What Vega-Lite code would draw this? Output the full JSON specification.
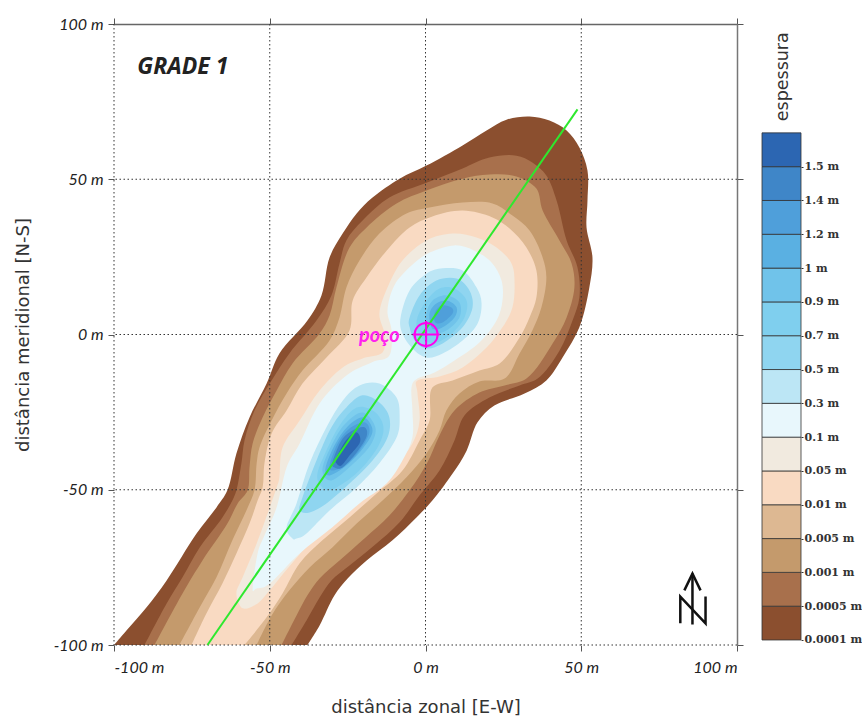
{"$schema":"https://vega.github.io/schema/vega-lite/v6.json","padding":{"left":14,"top":16,"right":0,"bottom":0},"background":"white","bounds":"flush","spacing":25,"config":{"view":{"stroke":null},"axis":{"grid":false}},
"datasets":{
"contours":[
{"p":"0","b":"0.0001 m","x":-100,"y":-100},{"p":"0","b":"0.0001 m","x":-96,"y":-95.3},{"p":"0","b":"0.0001 m","x":-89.6,"y":-87.9},{"p":"0","b":"0.0001 m","x":-83.1,"y":-79.2},{"p":"0","b":"0.0001 m","x":-73.5,"y":-64.1},{"p":"0","b":"0.0001 m","x":-67.1,"y":-55.7},{"p":"0","b":"0.0001 m","x":-63.6,"y":-50.2},{"p":"0","b":"0.0001 m","x":-60.7,"y":-38.3},{"p":"0","b":"0.0001 m","x":-56.5,"y":-26.7},{"p":"0","b":"0.0001 m","x":-51,"y":-15.8},{"p":"0","b":"0.0001 m","x":-46.9,"y":-6.1},{"p":"0","b":"0.0001 m","x":-37.9,"y":4.5},{"p":"0","b":"0.0001 m","x":-33.4,"y":12.6},{"p":"0","b":"0.0001 m","x":-30.8,"y":24.8},{"p":"0","b":"0.0001 m","x":-26.6,"y":32.5},{"p":"0","b":"0.0001 m","x":-22.1,"y":39},{"p":"0","b":"0.0001 m","x":-17,"y":44.1},{"p":"0","b":"0.0001 m","x":-8.3,"y":50.2},{"p":"0","b":"0.0001 m","x":0.3,"y":54.4},{"p":"0","b":"0.0001 m","x":11.9,"y":60.9},{"p":"0","b":"0.0001 m","x":19.6,"y":65.7},{"p":"0","b":"0.0001 m","x":26,"y":69.2},{"p":"0","b":"0.0001 m","x":33.4,"y":70.2},{"p":"0","b":"0.0001 m","x":39.8,"y":68.9},{"p":"0","b":"0.0001 m","x":45.3,"y":65.7},{"p":"0","b":"0.0001 m","x":49.4,"y":60.2},{"p":"0","b":"0.0001 m","x":52,"y":52.8},{"p":"0","b":"0.0001 m","x":52,"y":43.1},{"p":"0","b":"0.0001 m","x":51.7,"y":34.5},{"p":"0","b":"0.0001 m","x":53.6,"y":24.8},{"p":"0","b":"0.0001 m","x":52.6,"y":15.1},{"p":"0","b":"0.0001 m","x":49.4,"y":2.3},{"p":"0","b":"0.0001 m","x":44,"y":-7.4},{"p":"0","b":"0.0001 m","x":38.8,"y":-14.8},{"p":"0","b":"0.0001 m","x":31.8,"y":-19},{"p":"0","b":"0.0001 m","x":22.1,"y":-22.9},{"p":"0","b":"0.0001 m","x":16.7,"y":-28.3},{"p":"0","b":"0.0001 m","x":13.2,"y":-37.4},{"p":"0","b":"0.0001 m","x":8.7,"y":-44.8},{"p":"0","b":"0.0001 m","x":2.2,"y":-53.5},{"p":"0","b":"0.0001 m","x":-2.9,"y":-58.9},{"p":"0","b":"0.0001 m","x":-10.6,"y":-66.3},{"p":"0","b":"0.0001 m","x":-18.9,"y":-72.8},{"p":"0","b":"0.0001 m","x":-25,"y":-78.6},{"p":"0","b":"0.0001 m","x":-29.2,"y":-84},{"p":"0","b":"0.0001 m","x":-34,"y":-93.7},{"p":"0","b":"0.0001 m","x":-37.9,"y":-100},
{"p":"1","b":"0.0005 m","x":-90.2,"y":-100},{"p":"1","b":"0.0005 m","x":-83.1,"y":-86.6},{"p":"1","b":"0.0005 m","x":-78,"y":-78.2},{"p":"1","b":"0.0005 m","x":-72.5,"y":-68.6},{"p":"1","b":"0.0005 m","x":-65.2,"y":-58.9},{"p":"1","b":"0.0005 m","x":-62,"y":-53.5},{"p":"1","b":"0.0005 m","x":-60.7,"y":-50.2},{"p":"1","b":"0.0005 m","x":-59.1,"y":-41.5},{"p":"1","b":"0.0005 m","x":-58.1,"y":-34.1},{"p":"1","b":"0.0005 m","x":-54.9,"y":-24.5},{"p":"1","b":"0.0005 m","x":-49.4,"y":-14.8},{"p":"1","b":"0.0005 m","x":-43.7,"y":-6.1},{"p":"1","b":"0.0005 m","x":-35,"y":4.5},{"p":"1","b":"0.0005 m","x":-30.2,"y":12.6},{"p":"1","b":"0.0005 m","x":-27.6,"y":22.9},{"p":"1","b":"0.0005 m","x":-25.4,"y":30.3},{"p":"1","b":"0.0005 m","x":-20.2,"y":36.7},{"p":"1","b":"0.0005 m","x":-11.6,"y":44.1},{"p":"1","b":"0.0005 m","x":0.3,"y":48.9},{"p":"1","b":"0.0005 m","x":11.9,"y":53.5},{"p":"1","b":"0.0005 m","x":20.5,"y":57},{"p":"1","b":"0.0005 m","x":29.2,"y":57.6},{"p":"1","b":"0.0005 m","x":34.3,"y":55.4},{"p":"1","b":"0.0005 m","x":38.8,"y":51.2},{"p":"1","b":"0.0005 m","x":42.1,"y":43.1},{"p":"1","b":"0.0005 m","x":45.3,"y":30.3},{"p":"1","b":"0.0005 m","x":48.8,"y":21.6},{"p":"1","b":"0.0005 m","x":49.4,"y":11.9},{"p":"1","b":"0.0005 m","x":47.2,"y":4.5},{"p":"1","b":"0.0005 m","x":43,"y":-5.2},{"p":"1","b":"0.0005 m","x":36,"y":-14.2},{"p":"1","b":"0.0005 m","x":30.2,"y":-16.4},{"p":"1","b":"0.0005 m","x":20.5,"y":-20.3},{"p":"1","b":"0.0005 m","x":12.5,"y":-26.1},{"p":"1","b":"0.0005 m","x":9.3,"y":-34.1},{"p":"1","b":"0.0005 m","x":4.5,"y":-43.8},{"p":"1","b":"0.0005 m","x":-1.9,"y":-51.8},{"p":"1","b":"0.0005 m","x":-8.3,"y":-60.5},{"p":"1","b":"0.0005 m","x":-16.4,"y":-67.9},{"p":"1","b":"0.0005 m","x":-24.4,"y":-74.4},{"p":"1","b":"0.0005 m","x":-30.2,"y":-79.2},{"p":"1","b":"0.0005 m","x":-34,"y":-84.7},{"p":"1","b":"0.0005 m","x":-38.2,"y":-92.1},{"p":"1","b":"0.0005 m","x":-43,"y":-100},
{"p":"2","b":"0.001 m","x":-87,"y":-100},{"p":"2","b":"0.001 m","x":-78,"y":-83.4},{"p":"2","b":"0.001 m","x":-71.6,"y":-72.8},{"p":"2","b":"0.001 m","x":-63.6,"y":-60.9},{"p":"2","b":"0.001 m","x":-60.3,"y":-54.4},{"p":"2","b":"0.001 m","x":-57.1,"y":-50.2},{"p":"2","b":"0.001 m","x":-56.5,"y":-42.8},{"p":"2","b":"0.001 m","x":-55.5,"y":-35.1},{"p":"2","b":"0.001 m","x":-52.3,"y":-26.7},{"p":"2","b":"0.001 m","x":-47.8,"y":-18},{"p":"2","b":"0.001 m","x":-42.7,"y":-9.3},{"p":"2","b":"0.001 m","x":-34,"y":0.3},{"p":"2","b":"0.001 m","x":-30.8,"y":6.1},{"p":"2","b":"0.001 m","x":-28.6,"y":15.1},{"p":"2","b":"0.001 m","x":-24.4,"y":28},{"p":"2","b":"0.001 m","x":-18.9,"y":34.5},{"p":"2","b":"0.001 m","x":-9.3,"y":42.2},{"p":"2","b":"0.001 m","x":0.3,"y":46.4},{"p":"2","b":"0.001 m","x":11.9,"y":50.2},{"p":"2","b":"0.001 m","x":20.5,"y":51.5},{"p":"2","b":"0.001 m","x":29.2,"y":50.9},{"p":"2","b":"0.001 m","x":35.6,"y":47},{"p":"2","b":"0.001 m","x":37.6,"y":39.9},{"p":"2","b":"0.001 m","x":43,"y":30.3},{"p":"2","b":"0.001 m","x":46.9,"y":22.9},{"p":"2","b":"0.001 m","x":47.8,"y":15.1},{"p":"2","b":"0.001 m","x":45.3,"y":5.5},{"p":"2","b":"0.001 m","x":40.8,"y":-2.9},{"p":"2","b":"0.001 m","x":32.4,"y":-14.2},{"p":"2","b":"0.001 m","x":25.4,"y":-16.4},{"p":"2","b":"0.001 m","x":17.3,"y":-18.7},{"p":"2","b":"0.001 m","x":9.3,"y":-24.5},{"p":"2","b":"0.001 m","x":4.5,"y":-32.5},{"p":"2","b":"0.001 m","x":0.6,"y":-41.2},{"p":"2","b":"0.001 m","x":-5.1,"y":-50.2},{"p":"2","b":"0.001 m","x":-11.6,"y":-58.3},{"p":"2","b":"0.001 m","x":-19.6,"y":-65.7},{"p":"2","b":"0.001 m","x":-27.6,"y":-72.8},{"p":"2","b":"0.001 m","x":-34,"y":-78.6},{"p":"2","b":"0.001 m","x":-37.9,"y":-84},{"p":"2","b":"0.001 m","x":-41.4,"y":-90.5},{"p":"2","b":"0.001 m","x":-46.2,"y":-100},
{"p":"3","b":"0.005 m","x":-79,"y":-100},{"p":"3","b":"0.005 m","x":-72.5,"y":-87.9},{"p":"3","b":"0.005 m","x":-67.1,"y":-78.2},{"p":"3","b":"0.005 m","x":-62,"y":-66.3},{"p":"3","b":"0.005 m","x":-57.5,"y":-56.7},{"p":"3","b":"0.005 m","x":-54.9,"y":-50.2},{"p":"3","b":"0.005 m","x":-54.2,"y":-41.5},{"p":"3","b":"0.005 m","x":-53.3,"y":-36.4},{"p":"3","b":"0.005 m","x":-49.4,"y":-27.7},{"p":"3","b":"0.005 m","x":-44.6,"y":-19},{"p":"3","b":"0.005 m","x":-39.5,"y":-11.6},{"p":"3","b":"0.005 m","x":-30.8,"y":-1.9},{"p":"3","b":"0.005 m","x":-27.6,"y":5.5},{"p":"3","b":"0.005 m","x":-25.4,"y":15.1},{"p":"3","b":"0.005 m","x":-21.2,"y":23.8},{"p":"3","b":"0.005 m","x":-14.8,"y":32.5},{"p":"3","b":"0.005 m","x":-6.1,"y":39},{"p":"3","b":"0.005 m","x":1.3,"y":40.9},{"p":"3","b":"0.005 m","x":11.9,"y":42.5},{"p":"3","b":"0.005 m","x":21.5,"y":42.2},{"p":"3","b":"0.005 m","x":27.9,"y":38.3},{"p":"3","b":"0.005 m","x":33.4,"y":33.5},{"p":"3","b":"0.005 m","x":37.6,"y":24.8},{"p":"3","b":"0.005 m","x":38.8,"y":18.4},{"p":"3","b":"0.005 m","x":37.2,"y":8.7},{"p":"3","b":"0.005 m","x":34.3,"y":1.3},{"p":"3","b":"0.005 m","x":30.2,"y":-6.1},{"p":"3","b":"0.005 m","x":25.4,"y":-14.2},{"p":"3","b":"0.005 m","x":17.3,"y":-15.1},{"p":"3","b":"0.005 m","x":10.9,"y":-19},{"p":"3","b":"0.005 m","x":6.7,"y":-24.5},{"p":"3","b":"0.005 m","x":4.5,"y":-30.9},{"p":"3","b":"0.005 m","x":0.3,"y":-38.3},{"p":"3","b":"0.005 m","x":-6.1,"y":-46},{"p":"3","b":"0.005 m","x":-13.8,"y":-53.5},{"p":"3","b":"0.005 m","x":-22.1,"y":-60.9},{"p":"3","b":"0.005 m","x":-29.9,"y":-68.6},{"p":"3","b":"0.005 m","x":-37.2,"y":-75},{"p":"3","b":"0.005 m","x":-43.7,"y":-82.4},{"p":"3","b":"0.005 m","x":-49.4,"y":-90.5},{"p":"3","b":"0.005 m","x":-54.2,"y":-100},
{"p":"4","b":"0.01 m","x":-75.1,"y":-100},{"p":"4","b":"0.01 m","x":-70.3,"y":-89.8},{"p":"4","b":"0.01 m","x":-65.2,"y":-80.2},{"p":"4","b":"0.01 m","x":-60.7,"y":-70.5},{"p":"4","b":"0.01 m","x":-56.5,"y":-60.9},{"p":"4","b":"0.01 m","x":-53.9,"y":-53.5},{"p":"4","b":"0.01 m","x":-52.3,"y":-49.3},{"p":"4","b":"0.01 m","x":-51.7,"y":-41.5},{"p":"4","b":"0.01 m","x":-49.4,"y":-31.9},{"p":"4","b":"0.01 m","x":-44.6,"y":-24.5},{"p":"4","b":"0.01 m","x":-39.5,"y":-15.8},{"p":"4","b":"0.01 m","x":-31.8,"y":-7.4},{"p":"4","b":"0.01 m","x":-24.4,"y":1.3},{"p":"4","b":"0.01 m","x":-23.4,"y":10.9},{"p":"4","b":"0.01 m","x":-18.9,"y":18.4},{"p":"4","b":"0.01 m","x":-12.5,"y":27},{"p":"4","b":"0.01 m","x":-5.1,"y":34.5},{"p":"4","b":"0.01 m","x":2.2,"y":38},{"p":"4","b":"0.01 m","x":11.9,"y":39.9},{"p":"4","b":"0.01 m","x":21.5,"y":37.7},{"p":"4","b":"0.01 m","x":27,"y":34.1},{"p":"4","b":"0.01 m","x":32.4,"y":28},{"p":"4","b":"0.01 m","x":35.6,"y":20.6},{"p":"4","b":"0.01 m","x":35.6,"y":11.9},{"p":"4","b":"0.01 m","x":33.4,"y":5.5},{"p":"4","b":"0.01 m","x":30.2,"y":-1},{"p":"4","b":"0.01 m","x":23.8,"y":-9.3},{"p":"4","b":"0.01 m","x":17.3,"y":-11.6},{"p":"4","b":"0.01 m","x":8.7,"y":-14.8},{"p":"4","b":"0.01 m","x":2.2,"y":-17.1},{"p":"4","b":"0.01 m","x":1.3,"y":-27.7},{"p":"4","b":"0.01 m","x":-1.9,"y":-34.1},{"p":"4","b":"0.01 m","x":-7.4,"y":-43.8},{"p":"4","b":"0.01 m","x":-15.7,"y":-51.2},{"p":"4","b":"0.01 m","x":-24.4,"y":-58.9},{"p":"4","b":"0.01 m","x":-33.1,"y":-66.3},{"p":"4","b":"0.01 m","x":-40.4,"y":-73.7},{"p":"4","b":"0.01 m","x":-45.9,"y":-83.4},{"p":"4","b":"0.01 m","x":-51,"y":-91.1},{"p":"4","b":"0.01 m","x":-58.1,"y":-100},
{"p":"5","b":"0.05 m","x":-58.7,"y":-88.2},{"p":"5","b":"0.05 m","x":-60.7,"y":-83.4},{"p":"5","b":"0.05 m","x":-58.7,"y":-78.2},{"p":"5","b":"0.05 m","x":-54.2,"y":-67.3},{"p":"5","b":"0.05 m","x":-50,"y":-55.7},{"p":"5","b":"0.05 m","x":-47.8,"y":-49.3},{"p":"5","b":"0.05 m","x":-46.9,"y":-46},{"p":"5","b":"0.05 m","x":-45.9,"y":-36.4},{"p":"5","b":"0.05 m","x":-40.4,"y":-27.7},{"p":"5","b":"0.05 m","x":-34,"y":-18},{"p":"5","b":"0.05 m","x":-26.6,"y":-10.6},{"p":"5","b":"0.05 m","x":-20.2,"y":-7.7},{"p":"5","b":"0.05 m","x":-13.8,"y":-5.8},{"p":"5","b":"0.05 m","x":-13.2,"y":0.3},{"p":"5","b":"0.05 m","x":-14.8,"y":6.8},{"p":"5","b":"0.05 m","x":-12.2,"y":15.1},{"p":"5","b":"0.05 m","x":-7.4,"y":23.8},{"p":"5","b":"0.05 m","x":0.3,"y":30.3},{"p":"5","b":"0.05 m","x":8.7,"y":32.5},{"p":"5","b":"0.05 m","x":16.4,"y":31.2},{"p":"5","b":"0.05 m","x":22.8,"y":28},{"p":"5","b":"0.05 m","x":27.6,"y":22.9},{"p":"5","b":"0.05 m","x":28.6,"y":16.4},{"p":"5","b":"0.05 m","x":27.9,"y":8.7},{"p":"5","b":"0.05 m","x":24.7,"y":2.3},{"p":"5","b":"0.05 m","x":19.6,"y":-4.2},{"p":"5","b":"0.05 m","x":11.9,"y":-10.6},{"p":"5","b":"0.05 m","x":4.5,"y":-13.5},{"p":"5","b":"0.05 m","x":-2.6,"y":-14.8},{"p":"5","b":"0.05 m","x":-2.6,"y":-18.7},{"p":"5","b":"0.05 m","x":-1.9,"y":-27.7},{"p":"5","b":"0.05 m","x":-4.2,"y":-35.1},{"p":"5","b":"0.05 m","x":-9.3,"y":-41.5},{"p":"5","b":"0.05 m","x":-17,"y":-48},{"p":"5","b":"0.05 m","x":-24.4,"y":-55.1},{"p":"5","b":"0.05 m","x":-32.4,"y":-62.1},{"p":"5","b":"0.05 m","x":-38.8,"y":-68.9},{"p":"5","b":"0.05 m","x":-45.3,"y":-76.6},{"p":"5","b":"0.05 m","x":-50,"y":-82.4},{"p":"5","b":"0.05 m","x":-53.9,"y":-86.6},
{"p":"6","b":"0.1 m","x":-55.5,"y":-81.8},{"p":"6","b":"0.1 m","x":-53.9,"y":-70.5},{"p":"6","b":"0.1 m","x":-51.7,"y":-64.7},{"p":"6","b":"0.1 m","x":-47.8,"y":-55.7},{"p":"6","b":"0.1 m","x":-44.6,"y":-42.8},{"p":"6","b":"0.1 m","x":-40.4,"y":-35.1},{"p":"6","b":"0.1 m","x":-34,"y":-22.2},{"p":"6","b":"0.1 m","x":-25.4,"y":-13.2},{"p":"6","b":"0.1 m","x":-17.3,"y":-9},{"p":"6","b":"0.1 m","x":-11.6,"y":-6.8},{"p":"6","b":"0.1 m","x":-10.9,"y":1.3},{"p":"6","b":"0.1 m","x":-12.2,"y":7.7},{"p":"6","b":"0.1 m","x":-10,"y":15.8},{"p":"6","b":"0.1 m","x":-4.5,"y":22.2},{"p":"6","b":"0.1 m","x":1.3,"y":26.4},{"p":"6","b":"0.1 m","x":9.3,"y":28.7},{"p":"6","b":"0.1 m","x":15.7,"y":27},{"p":"6","b":"0.1 m","x":21.2,"y":23.2},{"p":"6","b":"0.1 m","x":24.4,"y":17.4},{"p":"6","b":"0.1 m","x":24.7,"y":10.9},{"p":"6","b":"0.1 m","x":22.8,"y":4.5},{"p":"6","b":"0.1 m","x":17.3,"y":-2.6},{"p":"6","b":"0.1 m","x":9.3,"y":-8.4},{"p":"6","b":"0.1 m","x":2.9,"y":-12.2},{"p":"6","b":"0.1 m","x":-2.6,"y":-14.2},{"p":"6","b":"0.1 m","x":-4.5,"y":-17.1},{"p":"6","b":"0.1 m","x":-4.2,"y":-24.5},{"p":"6","b":"0.1 m","x":-4.2,"y":-33.2},{"p":"6","b":"0.1 m","x":-7.4,"y":-40.6},{"p":"6","b":"0.1 m","x":-12.5,"y":-48},{"p":"6","b":"0.1 m","x":-21.2,"y":-54.4},{"p":"6","b":"0.1 m","x":-29.9,"y":-62.1},{"p":"6","b":"0.1 m","x":-40.4,"y":-70.5},{"p":"6","b":"0.1 m","x":-50,"y":-80.2},{"p":"6","b":"0.1 m","x":-54.2,"y":-81.8},
{"p":"7u","b":"0.3 m","x":-8,"y":5.5},{"p":"7u","b":"0.3 m","x":-5.1,"y":14.2},{"p":"7u","b":"0.3 m","x":0.3,"y":19.6},{"p":"7u","b":"0.3 m","x":5.5,"y":21.3},{"p":"7u","b":"0.3 m","x":11.9,"y":20.6},{"p":"7u","b":"0.3 m","x":16.4,"y":15.1},{"p":"7u","b":"0.3 m","x":18,"y":10},{"p":"7u","b":"0.3 m","x":16.7,"y":3.5},{"p":"7u","b":"0.3 m","x":11.9,"y":-1.9},{"p":"7u","b":"0.3 m","x":5.5,"y":-6.1},{"p":"7u","b":"0.3 m","x":0.3,"y":-7.4},{"p":"7u","b":"0.3 m","x":-4.2,"y":-4.5},{"p":"7u","b":"0.3 m","x":-7.4,"y":0.3},
{"p":"7l","b":"0.3 m","x":-42.7,"y":-65.7},{"p":"7l","b":"0.3 m","x":-44.6,"y":-62.1},{"p":"7l","b":"0.3 m","x":-41.4,"y":-54.4},{"p":"7l","b":"0.3 m","x":-37.2,"y":-41.5},{"p":"7l","b":"0.3 m","x":-31.8,"y":-29.9},{"p":"7l","b":"0.3 m","x":-26.6,"y":-21.3},{"p":"7l","b":"0.3 m","x":-21.2,"y":-16.4},{"p":"7l","b":"0.3 m","x":-14.8,"y":-15.8},{"p":"7l","b":"0.3 m","x":-9.3,"y":-20.3},{"p":"7l","b":"0.3 m","x":-8.3,"y":-26.7},{"p":"7l","b":"0.3 m","x":-9.3,"y":-33.2},{"p":"7l","b":"0.3 m","x":-14.8,"y":-41.5},{"p":"7l","b":"0.3 m","x":-22.1,"y":-49.3},{"p":"7l","b":"0.3 m","x":-30.8,"y":-56.7},{"p":"7l","b":"0.3 m","x":-38.2,"y":-64.1},{"p":"7l","b":"0.3 m","x":-41.4,"y":-65.7},
{"p":"8u","b":"0.5 m","x":-5.1,"y":5.5},{"p":"8u","b":"0.5 m","x":-1.9,"y":12.6},{"p":"8u","b":"0.5 m","x":3.5,"y":17.4},{"p":"8u","b":"0.5 m","x":10,"y":18},{"p":"8u","b":"0.5 m","x":14.1,"y":14.2},{"p":"8u","b":"0.5 m","x":15.1,"y":8.7},{"p":"8u","b":"0.5 m","x":11.9,"y":2.3},{"p":"8u","b":"0.5 m","x":5.5,"y":-2.9},{"p":"8u","b":"0.5 m","x":0.3,"y":-4.5},{"p":"8u","b":"0.5 m","x":-3.5,"y":-1.9},{"p":"8u","b":"0.5 m","x":-5.1,"y":2.3},
{"p":"8l","b":"0.5 m","x":-40.4,"y":-56.7},{"p":"8l","b":"0.5 m","x":-39.5,"y":-52.5},{"p":"8l","b":"0.5 m","x":-35,"y":-40.6},{"p":"8l","b":"0.5 m","x":-30.2,"y":-29.9},{"p":"8l","b":"0.5 m","x":-25.4,"y":-23.5},{"p":"8l","b":"0.5 m","x":-20.2,"y":-19.6},{"p":"8l","b":"0.5 m","x":-14.8,"y":-21.9},{"p":"8l","b":"0.5 m","x":-11.6,"y":-26.7},{"p":"8l","b":"0.5 m","x":-12.2,"y":-33.2},{"p":"8l","b":"0.5 m","x":-17,"y":-40.6},{"p":"8l","b":"0.5 m","x":-24.4,"y":-48},{"p":"8l","b":"0.5 m","x":-31.8,"y":-54.4},{"p":"8l","b":"0.5 m","x":-37.2,"y":-57.3},
{"p":"9u","b":"0.7 m","x":-2.6,"y":5.5},{"p":"9u","b":"0.7 m","x":0.3,"y":10.9},{"p":"9u","b":"0.7 m","x":4.5,"y":14.8},{"p":"9u","b":"0.7 m","x":9.3,"y":14.8},{"p":"9u","b":"0.7 m","x":13.2,"y":10.9},{"p":"9u","b":"0.7 m","x":12.5,"y":5.5},{"p":"9u","b":"0.7 m","x":8.7,"y":0.6},{"p":"9u","b":"0.7 m","x":3.5,"y":-2.6},{"p":"9u","b":"0.7 m","x":-0.3,"y":-1.9},{"p":"9u","b":"0.7 m","x":-2.6,"y":1.3},
{"p":"9l","b":"0.7 m","x":-34.7,"y":-44.8},{"p":"9l","b":"0.7 m","x":-32.1,"y":-38},{"p":"9l","b":"0.7 m","x":-27.6,"y":-29.3},{"p":"9l","b":"0.7 m","x":-22.1,"y":-23.5},{"p":"9l","b":"0.7 m","x":-16.4,"y":-24.8},{"p":"9l","b":"0.7 m","x":-13.5,"y":-29.9},{"p":"9l","b":"0.7 m","x":-15.4,"y":-36.4},{"p":"9l","b":"0.7 m","x":-21.8,"y":-44.4},{"p":"9l","b":"0.7 m","x":-29.9,"y":-49.9},{"p":"9l","b":"0.7 m","x":-33.7,"y":-48.6},
{"p":"10u","b":"0.9 m","x":0.3,"y":6.8},{"p":"10u","b":"0.9 m","x":2.2,"y":10.9},{"p":"10u","b":"0.9 m","x":6.7,"y":12.6},{"p":"10u","b":"0.9 m","x":10.9,"y":10.3},{"p":"10u","b":"0.9 m","x":10.9,"y":5.5},{"p":"10u","b":"0.9 m","x":6.7,"y":1.3},{"p":"10u","b":"0.9 m","x":2.2,"y":0.3},{"p":"10u","b":"0.9 m","x":0.3,"y":2.3},
{"p":"10l","b":"0.9 m","x":-33.1,"y":-43.8},{"p":"10l","b":"0.9 m","x":-30.5,"y":-36.4},{"p":"10l","b":"0.9 m","x":-26,"y":-29},{"p":"10l","b":"0.9 m","x":-20.2,"y":-25.1},{"p":"10l","b":"0.9 m","x":-16.1,"y":-29.9},{"p":"10l","b":"0.9 m","x":-17.7,"y":-35.7},{"p":"10l","b":"0.9 m","x":-23.8,"y":-42.2},{"p":"10l","b":"0.9 m","x":-30.2,"y":-47},
{"p":"11u","b":"1 m","x":1.3,"y":6.8},{"p":"11u","b":"1 m","x":3.5,"y":10},{"p":"11u","b":"1 m","x":7.1,"y":10.9},{"p":"11u","b":"1 m","x":10,"y":8.7},{"p":"11u","b":"1 m","x":9.3,"y":5.5},{"p":"11u","b":"1 m","x":5.5,"y":2.3},{"p":"11u","b":"1 m","x":2.2,"y":1.9},
{"p":"11l","b":"1 m","x":-32.1,"y":-43.1},{"p":"11l","b":"1 m","x":-29.2,"y":-35.7},{"p":"11l","b":"1 m","x":-25,"y":-29.6},{"p":"11l","b":"1 m","x":-19.9,"y":-26.7},{"p":"11l","b":"1 m","x":-17,"y":-30.9},{"p":"11l","b":"1 m","x":-19.9,"y":-36.4},{"p":"11l","b":"1 m","x":-25.4,"y":-42.2},{"p":"11l","b":"1 m","x":-30.8,"y":-45.4},
{"p":"12u","b":"1.2 m","x":2.9,"y":6.8},{"p":"12u","b":"1.2 m","x":5.1,"y":9.3},{"p":"12u","b":"1.2 m","x":8.3,"y":8.7},{"p":"12u","b":"1.2 m","x":8.7,"y":6.8},{"p":"12u","b":"1.2 m","x":5.5,"y":3.9},{"p":"12u","b":"1.2 m","x":3.2,"y":3.9},
{"p":"12l","b":"1.2 m","x":-30.8,"y":-42.2},{"p":"12l","b":"1.2 m","x":-28.2,"y":-35.1},{"p":"12l","b":"1.2 m","x":-24.4,"y":-30.3},{"p":"12l","b":"1.2 m","x":-19.6,"y":-28.3},{"p":"12l","b":"1.2 m","x":-18,"y":-31.6},{"p":"12l","b":"1.2 m","x":-21.2,"y":-37.4},{"p":"12l","b":"1.2 m","x":-26,"y":-42.2},{"p":"12l","b":"1.2 m","x":-29.9,"y":-43.8},
{"p":"13","b":"1.4 m","x":-29.9,"y":-41.2},{"p":"13","b":"1.4 m","x":-27,"y":-34.1},{"p":"13","b":"1.4 m","x":-23.4,"y":-30.9},{"p":"13","b":"1.4 m","x":-19.6,"y":-29.9},{"p":"13","b":"1.4 m","x":-18.9,"y":-32.8},{"p":"13","b":"1.4 m","x":-22.1,"y":-38},{"p":"13","b":"1.4 m","x":-26.6,"y":-42.8},{"p":"13","b":"1.4 m","x":-29.2,"y":-42.8},
{"p":"14","b":"1.5 m","x":-28.6,"y":-39.9},{"p":"14","b":"1.5 m","x":-26,"y":-34.8},{"p":"14","b":"1.5 m","x":-22.8,"y":-31.6},{"p":"14","b":"1.5 m","x":-21.2,"y":-32.5},{"p":"14","b":"1.5 m","x":-21.2,"y":-35.1},{"p":"14","b":"1.5 m","x":-24.4,"y":-39},{"p":"14","b":"1.5 m","x":-27,"y":-42.2},{"p":"14","b":"1.5 m","x":-28.6,"y":-41.5}
],
"bar":[{"b":"0.0001 m","lo":0,"hi":1,"l":0,"r":1},{"b":"0.0005 m","lo":1,"hi":2,"l":0,"r":1},{"b":"0.001 m","lo":2,"hi":3,"l":0,"r":1},{"b":"0.005 m","lo":3,"hi":4,"l":0,"r":1},{"b":"0.01 m","lo":4,"hi":5,"l":0,"r":1},{"b":"0.05 m","lo":5,"hi":6,"l":0,"r":1},{"b":"0.1 m","lo":6,"hi":7,"l":0,"r":1},{"b":"0.3 m","lo":7,"hi":8,"l":0,"r":1},{"b":"0.5 m","lo":8,"hi":9,"l":0,"r":1},{"b":"0.7 m","lo":9,"hi":10,"l":0,"r":1},{"b":"0.9 m","lo":10,"hi":11,"l":0,"r":1},{"b":"1 m","lo":11,"hi":12,"l":0,"r":1},{"b":"1.2 m","lo":12,"hi":13,"l":0,"r":1},{"b":"1.4 m","lo":13,"hi":14,"l":0,"r":1},{"b":"1.5 m","lo":14,"hi":15,"l":0,"r":1}],
"north":[{"s":"a","x":85.7,"y":-77},{"s":"a","x":85.7,"y":-93.4},{"s":"h","x":83.1,"y":-82.4},{"s":"h","x":85.7,"y":-77},{"s":"h","x":88.3,"y":-82.4},{"s":"n","x":81.8,"y":-93},{"s":"n","x":81.8,"y":-84.4},{"s":"n","x":89.9,"y":-93},{"s":"n","x":89.9,"y":-84.4}]
},
"hconcat":[
{"width":623,"height":621,
"layer":[
{"data":{"name":"contours"},"transform":[{"filter":{"field":"p","oneOf":["0","1","2","3","4"]}}],"mark":{"type":"line","strokeWidth":0,"clip":true,"interpolate":"catmull-rom"},"encoding":{"x":{"field":"x","type":"quantitative","scale":{"domain":[-100,100],"nice":false,"zero":false},"axis":{"orient":"bottom","values":[-100,-50,0,50,100],"labelExpr":"datum.value + ' m'","domain":false,"tickSize":6,"tickColor":"#555","labelFont":"Lato","labelFontStyle":"italic","labelFontSize":16,"labelColor":"#222","labelPadding":8,"title":"distância zonal [E-W]","titleFont":"DejaVu Sans","titleFontWeight":"normal","titleFontSize":18,"titleColor":"#333","titlePadding":23}},"y":{"field":"y","type":"quantitative","scale":{"domain":[-100,100],"nice":false,"zero":false},"axis":{"orient":"left","values":[-100,-50,0,50,100],"labelExpr":"datum.value + ' m'","domain":false,"tickSize":6,"tickColor":"#555","labelFont":"Lato","labelFontStyle":"italic","labelFontSize":16,"labelColor":"#222","labelPadding":5,"title":"distância meridional [N-S]","titleFont":"DejaVu Sans","titleFontWeight":"normal","titleFontSize":18,"titleColor":"#333","titlePadding":21}},"detail":{"field":"p"},"order":{"value":null},"fill":{"field":"b","type":"nominal","legend":null,"sort":null,"scale":{"domain":["0.0001 m","0.0005 m","0.001 m","0.005 m","0.01 m","0.05 m","0.1 m","0.3 m","0.5 m","0.7 m","0.9 m","1 m","1.2 m","1.4 m","1.5 m"],"range":["#8B4F2F","#A8704C","#C49A6C","#DDB892","#F9DAC2","#F1EADF","#E8F7FC","#BCE6F5","#8FD5F0","#7FCFEE","#70C3EA","#5AB0E2","#4F9FDA","#3F86C8","#2C66B2"]}}}},
{"data":{"name":"contours"},"transform":[{"filter":{"not":{"field":"p","oneOf":["0","1","2","3","4"]}}}],"mark":{"type":"line","strokeWidth":0,"clip":true,"interpolate":"cardinal-closed"},"encoding":{"x":{"field":"x","type":"quantitative","axis":null},"y":{"field":"y","type":"quantitative","axis":null},"detail":{"field":"p"},"order":{"value":null},"fill":{"field":"b","type":"nominal","legend":null,"sort":null}}},
{"data":{"values":[{"g":-100},{"g":-50},{"g":0},{"g":50}]},"mark":{"type":"rule","stroke":"#333","strokeWidth":1,"strokeDash":[1.5,2.5]},"encoding":{"x":{"field":"g","type":"quantitative","axis":{"orient":"top","values":[-100,-50,0,50,100],"labels":false,"title":null,"tickSize":6,"tickColor":"#555","domainColor":"#666","domainWidth":1.5}}}},
{"data":{"values":[{"g":-100},{"g":-50},{"g":0},{"g":50}]},"mark":{"type":"rule","stroke":"#333","strokeWidth":1,"strokeDash":[1.5,2.5]},"encoding":{"y":{"field":"g","type":"quantitative","axis":{"orient":"right","values":[-100,-50,0,50,100],"labels":false,"title":null,"tickSize":6,"tickColor":"#555","domainColor":"#777","domainWidth":1.5}}}},
{"data":{"values":[{"x":-70,"y":-100},{"x":48.8,"y":72.5}]},"mark":{"type":"line","stroke":"#2EE82E","strokeWidth":2},"encoding":{"x":{"field":"x","type":"quantitative","axis":null},"y":{"field":"y","type":"quantitative","axis":null}}},
{"data":{"name":"north"},"mark":{"type":"line","stroke":"#111","strokeWidth":2.5},"encoding":{"x":{"field":"x","type":"quantitative","axis":null},"y":{"field":"y","type":"quantitative","axis":null},"detail":{"field":"s"},"order":{"value":null}}},
{"data":{"values":[{"x":0.2,"y":0}]},"mark":{"type":"point","shape":"circle","size":531,"filled":false,"stroke":"#FF00EE","strokeWidth":2,"opacity":1},"encoding":{"x":{"field":"x","type":"quantitative","axis":null},"y":{"field":"y","type":"quantitative","axis":null}}},
{"data":{"values":[{"x":0.2,"y":0}]},"mark":{"type":"point","shape":"M-1,0L1,0M0,-1L0,1","size":729,"filled":false,"stroke":"#FF00EE","strokeWidth":2,"opacity":1},"encoding":{"x":{"field":"x","type":"quantitative","axis":null},"y":{"field":"y","type":"quantitative","axis":null}}},
{"data":{"values":[{"t":"poço","x":-8.3,"y":-0.6}]},"mark":{"type":"text","align":"right","baseline":"middle","font":"Lato","fontStyle":"italic","fontWeight":"bold","fontSize":20,"fill":"#FF22EE"},"encoding":{"x":{"field":"x","type":"quantitative","axis":null},"y":{"field":"y","type":"quantitative","axis":null},"text":{"field":"t"}}},
{"data":{"values":[{"t":"GRADE 1","x":-92.5,"y":86}]},"mark":{"type":"text","align":"left","baseline":"middle","font":"Open Sans","fontStyle":"italic","fontWeight":"bold","fontSize":23,"fill":"#222"},"encoding":{"x":{"field":"x","type":"quantitative","axis":null},"y":{"field":"y","type":"quantitative","axis":null},"text":{"field":"t"}}}
],
"resolve":{"axis":{"x":"independent","y":"independent"}}},
{"width":39,"height":621,
"layer":[
{"data":{"name":"bar"},"mark":{"type":"rect","stroke":"#333","strokeWidth":1,"strokeOpacity":0.8},"encoding":{"x":{"field":"l","type":"quantitative","axis":null,"scale":{"domain":[0,1],"nice":false,"zero":false}},"x2":{"field":"r"},"y":{"field":"lo","type":"quantitative","scale":{"domain":[-0.148,18.22],"nice":false,"zero":false},"axis":{"orient":"right","values":[0,1,2,3,4,5,6,7,8,9,10,11,12,13,14],"labelExpr":"['0.0001 m','0.0005 m','0.001 m','0.005 m','0.01 m','0.05 m','0.1 m','0.3 m','0.5 m','0.7 m','0.9 m','1 m','1.2 m','1.4 m','1.5 m'][datum.value]","domain":false,"tickSize":2,"tickColor":"#333","labelFont":"DejaVu Serif","labelFontWeight":"bold","labelFontSize":11,"labelColor":"#333","labelPadding":1,"title":null}},"y2":{"field":"hi"},"fill":{"field":"b","type":"nominal","legend":null,"sort":null,"scale":{"domain":["0.0001 m","0.0005 m","0.001 m","0.005 m","0.01 m","0.05 m","0.1 m","0.3 m","0.5 m","0.7 m","0.9 m","1 m","1.2 m","1.4 m","1.5 m"],"range":["#8B4F2F","#A8704C","#C49A6C","#DDB892","#F9DAC2","#F1EADF","#E8F7FC","#BCE6F5","#8FD5F0","#7FCFEE","#70C3EA","#5AB0E2","#4F9FDA","#3F86C8","#2C66B2"]}}}},
{"data":{"values":[{"t":"espessura","x":0.55,"y":16.66}]},"mark":{"type":"text","angle":270,"align":"center","baseline":"middle","font":"DejaVu Sans","fontSize":17.5,"fill":"#333"},"encoding":{"x":{"field":"x","type":"quantitative"},"y":{"field":"y","type":"quantitative"},"text":{"field":"t"}}}
]}
]}
